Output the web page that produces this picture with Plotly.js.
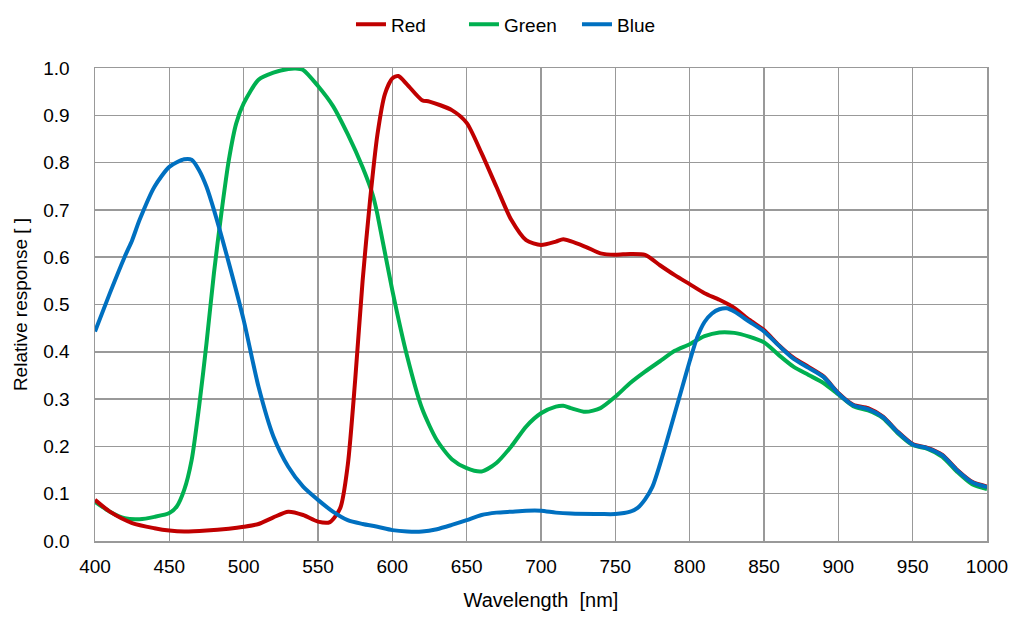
<!DOCTYPE html>
<html><head><meta charset="utf-8">
<script src="https://cdn.plot.ly/plotly-3.0.1.min.js"></script>
<style>html,body{margin:0;padding:0;background:#fff}#chart{width:1024px;height:617px}</style>
</head><body><div id="chart"></div>
<script>
const redX = [400,410,425,440,450,460,475,490,500,510,520,530,540,550,558,565,570,575,580,585,590,595,600,604,610,620,625,640,650,660,670,680,690,700,710,715,730,740,750,760,770,780,790,800,810,820,830,840,850,860,870,880,890,900,910,920,930,940,950,960,970,980,990,1000];
const redY = [0.087,0.062,0.038,0.027,0.022,0.02,0.022,0.026,0.03,0.036,0.05,0.062,0.055,0.041,0.04,0.07,0.16,0.34,0.55,0.72,0.86,0.945,0.978,0.983,0.965,0.932,0.929,0.911,0.884,0.82,0.749,0.679,0.636,0.626,0.633,0.638,0.622,0.608,0.605,0.607,0.605,0.583,0.562,0.543,0.524,0.51,0.493,0.468,0.446,0.414,0.387,0.368,0.348,0.313,0.288,0.281,0.263,0.231,0.205,0.197,0.182,0.15,0.125,0.115];
const greenX = [400,410,420,430,440,450,455,460,465,470,475,480,485,490,495,500,510,520,530,535,540,550,560,570,580,587,590,600,610,620,630,640,650,660,670,680,690,700,710,715,720,730,740,750,760,770,780,790,800,810,820,830,840,850,860,870,880,890,900,910,920,930,940,950,960,970,980,990,1000];
const greenY = [0.083,0.062,0.048,0.046,0.051,0.059,0.073,0.108,0.171,0.284,0.418,0.566,0.693,0.805,0.883,0.925,0.975,0.99,0.998,0.999,0.996,0.962,0.92,0.86,0.79,0.73,0.69,0.53,0.39,0.28,0.213,0.173,0.154,0.147,0.165,0.2,0.242,0.27,0.284,0.286,0.281,0.273,0.281,0.305,0.334,0.358,0.38,0.402,0.416,0.433,0.441,0.44,0.432,0.42,0.393,0.368,0.351,0.334,0.31,0.285,0.276,0.26,0.228,0.203,0.195,0.178,0.146,0.12,0.11];
const blueX = [400,410,420,425,430,440,450,460,465,470,475,480,490,500,510,520,530,540,550,560,570,580,590,600,610,620,630,640,650,660,670,680,690,700,710,720,740,750,760,765,770,775,780,785,790,795,800,805,810,815,820,825,830,840,850,860,870,880,890,900,910,920,930,940,950,960,970,980,990,1000];
const blueY = [0.443,0.524,0.601,0.636,0.679,0.749,0.791,0.807,0.806,0.784,0.749,0.70,0.588,0.467,0.326,0.221,0.157,0.115,0.087,0.062,0.044,0.036,0.03,0.023,0.02,0.02,0.025,0.034,0.044,0.055,0.06,0.062,0.064,0.064,0.06,0.058,0.057,0.057,0.062,0.07,0.088,0.115,0.162,0.215,0.27,0.325,0.38,0.43,0.463,0.481,0.49,0.492,0.485,0.464,0.443,0.413,0.385,0.366,0.347,0.312,0.287,0.279,0.262,0.23,0.204,0.196,0.181,0.149,0.124,0.114];

const traces = [
  {x: greenX, y: greenY, name: 'Green', legendrank: 2, mode: 'lines', line: {color: '#00B050', width: 4, shape: 'spline', smoothing: 0.7}},
  {x: redX, y: redY, name: 'Red', legendrank: 1, mode: 'lines', line: {color: '#C00000', width: 4, shape: 'spline', smoothing: 0.7}},
  {x: blueX, y: blueY, name: 'Blue', legendrank: 3, mode: 'lines', line: {color: '#0070C0', width: 4, shape: 'spline', smoothing: 0.7}}
];
const layout = {
  width: 1024, height: 617,
  margin: {l: 95, r: 37, t: 68, b: 76, autoexpand: false},
  paper_bgcolor: '#fff', plot_bgcolor: '#fff',
  font: {family: 'Liberation Sans, Arial, sans-serif', size: 19, color: '#000'},
  showlegend: true,
  legend: {orientation: 'h', x: 0.477, xanchor: 'center', y: 1.092, yanchor: 'middle', font: {size: 19}, tracegroupgap: 0, entrywidth: 68, entrywidthmode: 'pixels'},
  xaxis: {range: [400, 1000], dtick: 50, tick0: 400, showgrid: true, gridcolor: '#999', gridwidth: 1.5, zeroline: false,
    showline: true, linecolor: '#999', linewidth: 1.5, mirror: true, ticks: '', tickfont: {size: 19}, ticklabelstandoff: 8,
    title: {text: 'Wavelength  [nm]', font: {size: 20}, standoff: 16}},
  yaxis: {range: [0, 1.0], dtick: 0.1, tickformat: '.1f', showgrid: true, gridcolor: '#999', gridwidth: 1.5, zeroline: false,
    showline: true, linecolor: '#999', linewidth: 1.5, mirror: true, ticks: '', tickfont: {size: 19}, ticklabelstandoff: 20,
    title: {text: 'Relative response [ ]', font: {size: 19}, standoff: 10}}
};
Plotly.newPlot('chart', traces, layout, {displayModeBar: false, staticPlot: true});
</script></body></html>
